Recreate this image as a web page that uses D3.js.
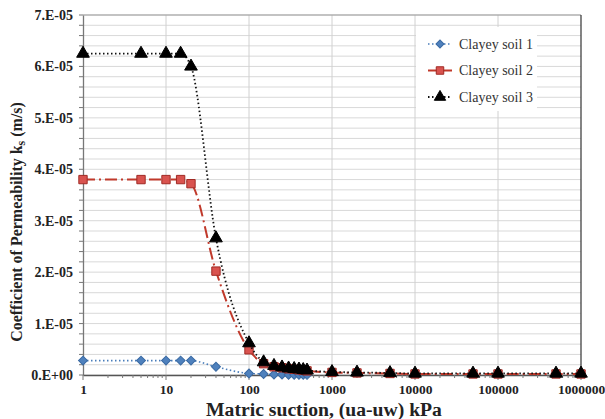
<!DOCTYPE html>
<html><head><meta charset="utf-8">
<script src="https://cdn.jsdelivr.net/npm/d3@7"></script>
<style>body{margin:0;background:#fff}svg{display:block}
text{font-family:"Liberation Serif","Times New Roman",Times,serif}</style>
</head><body>
<svg id="c" width="605" height="419"></svg>
<script>
const suction = [1,5,10,15,20,40,100,150,200,250,300,350,400,450,500,1000,2000,5000,10000,50000,100000,500000,1000000];
const soil1 = [2.8e-6,2.8e-6,2.8e-6,2.8e-6,2.8e-6,1.6e-6,3e-7,2e-7,1e-7,1e-7,5e-8,5e-8,3e-8,3e-8,2e-8,null,null,null,null,null,null,null,null];
const soil2 = [3.8e-5,3.8e-5,3.8e-5,3.8e-5,3.72e-5,2.02e-5,4.9e-6,2.2e-6,1.6e-6,1.4e-6,1.2e-6,1.1e-6,1.0e-6,9e-7,8e-7,5e-7,4e-7,3e-7,2e-7,2e-7,2e-7,2e-7,2e-7];
const soil3 = [6.25e-5,6.25e-5,6.25e-5,6.25e-5,6.0e-5,2.66e-5,6.2e-6,2.5e-6,1.8e-6,1.5e-6,1.3e-6,1.2e-6,1.1e-6,1.0e-6,9e-7,6e-7,5e-7,4e-7,3e-7,3e-7,3e-7,3e-7,3e-7];
const seriesNames = ["Clayey soil 1","Clayey soil 2","Clayey soil 3"];
const xTicks = [1,10,100,1000,10000,100000,1000000];
const yTicks = [0,1e-5,2e-5,3e-5,4e-5,5e-5,6e-5,7e-5];

const serif = '"Liberation Serif","Times New Roman",Times,serif';
const svg = d3.select("#c");
const L=83, R=581, T=15, B=375;
const x = d3.scaleLog().domain([1,1e6]).range([L,R]);
const y = d3.scaleLinear().domain([0,7e-5]).range([B,T]);

function fit(sel, target){
  const w = sel.node().getComputedTextLength();
  const fs = parseFloat(sel.attr("font-size"));
  sel.attr("font-size", fs*target/w);
}

const yMinor = d3.range(0,7.0001e-5,2e-6);
svg.append("g").selectAll("line").data(yMinor).join("line")
  .attr("x1",L).attr("x2",R).attr("y1",d=>y(d)).attr("y2",d=>y(d))
  .attr("stroke","#d9d9d9").attr("stroke-width",1);
svg.append("g").selectAll("line").data(xTicks.slice(1,-1)).join("line")
  .attr("x1",d=>x(d)).attr("x2",d=>x(d)).attr("y1",T).attr("y2",B)
  .attr("stroke","#d0d0d0").attr("stroke-width",1);
svg.append("line").attr("x1",L).attr("x2",R).attr("y1",T).attr("y2",T).attr("stroke","#9a9a9a");
svg.append("line").attr("x1",R).attr("x2",R).attr("y1",T).attr("y2",B).attr("stroke","#333").attr("stroke-width",1.2);

// y axis
const yAxis = d3.axisLeft(y).tickValues(yTicks).tickSize(0).tickPadding(10)
  .tickFormat(d=> d===0 ? "0.E+00" : Math.round(d/1e-5)+".E-05");
const gy = svg.append("g").attr("transform",`translate(${L},0)`).call(yAxis);
gy.attr("font-family",null);
gy.select(".domain").attr("stroke","#777").attr("stroke-width",1.3);
gy.selectAll("text").style("font-family",serif).attr("font-weight","bold").attr("font-size",14).attr("fill","#222");
svg.append("g").selectAll("line").data(yMinor).join("line")
  .attr("x1",L-4).attr("x2",L).attr("y1",d=>y(d)).attr("y2",d=>y(d)).attr("stroke","#777");

// x axis
const xAxis = d3.axisBottom(x).tickValues(xTicks).tickSize(0).tickPadding(9).tickFormat(d3.format("d"));
const gx = svg.append("g").attr("transform",`translate(0,${B})`).call(xAxis);
gx.attr("font-family",null);
gx.select(".domain").attr("stroke","#555").attr("stroke-width",1.3);
gx.selectAll("text").style("font-family",serif).attr("font-weight","bold").attr("font-size",13.5).attr("fill","#222");
const minor = [];
for(let e=0;e<6;e++) for(let k=1;k<=9;k++) minor.push(k*Math.pow(10,e));
minor.push(1e6);
svg.append("g").selectAll("line").data(minor).join("line")
  .attr("x1",d=>x(d)).attr("x2",d=>x(d)).attr("y1",B).attr("y2",d=>{const l=Math.log10(d);return Math.abs(l-Math.round(l))<1e-9?B+5:B+3;})
  .attr("stroke","#777");

// titles
const xt = svg.append("text").attr("x",324).attr("y",416).attr("text-anchor","middle")
  .style("font-family",serif).attr("font-weight","bold").attr("font-size",18).attr("fill","#222")
  .text("Matric suction, (ua-uw) kPa");
fit(xt,236);
const yt = svg.append("text").attr("transform",`translate(22,222) rotate(-90)`).attr("text-anchor","middle")
  .style("font-family",serif).attr("font-weight","bold").attr("font-size",17).attr("fill","#222");
yt.append("tspan").text("Coefficient of Permeability k");
yt.append("tspan").attr("font-size","0.75em").attr("dy",3).text("s");
yt.append("tspan").attr("dy",-3).text(" (m/s)");
fit(yt,240);

// series
const styles = [
  {data:soil1, color:"#4a7ebb", dash:"1.5,2.5", width:1.6, marker:"diamond", fill:"#4f81bd", stroke:"#3a6aa3", size:40},
  {data:soil2, color:"#c0392b", dash:"12,4,2,4", width:2, marker:"square", fill:"#d9534f", stroke:"#a02a24", size:70},
  {data:soil3, color:"#111", dash:"1.5,2.5", width:1.8, marker:"triangle", fill:"#000", stroke:"#000", size:70}
];
const line = d3.line().x(d=>x(d[0])).y(d=>y(d[1])).curve(d3.curveMonotoneX);
const symMap = {diamond:d3.symbolSquare, square:d3.symbolSquare, triangle:d3.symbolTriangle};
styles.forEach(s=>{
  const pts = suction.map((v,i)=>[v,s.data[i]]).filter(d=>d[1]!==null);
  svg.append("path").datum(pts).attr("d",line).attr("fill","none")
    .attr("stroke",s.color).attr("stroke-width",s.width).attr("stroke-dasharray",s.dash);
  svg.append("g").selectAll("path").data(pts).join("path")
    .attr("transform",d=>`translate(${x(d[0])},${y(d[1])})`+(s.marker==="diamond"?" rotate(45)":""))
    .attr("d",d3.symbol().type(symMap[s.marker]).size(s.size))
    .attr("fill",s.fill).attr("stroke",s.stroke).attr("stroke-width",1);
});

// legend
svg.append("rect").attr("x",416).attr("y",27).attr("width",121).attr("height",84).attr("fill","#fff");
styles.forEach((s,i)=>{
  const ly = 44 + i*26.5;
  svg.append("line").attr("x1",428).attr("x2",452).attr("y1",ly).attr("y2",ly)
    .attr("stroke",s.color).attr("stroke-width",s.width).attr("stroke-dasharray",i===1?"none":s.dash);
  svg.append("path").attr("transform",`translate(440,${ly})`+(s.marker==="diamond"?" rotate(45)":""))
    .attr("d",d3.symbol().type(symMap[s.marker]).size(s.size*0.8))
    .attr("fill",s.fill).attr("stroke",s.stroke);
  svg.append("text").attr("x",459).attr("y",ly+4.5).style("font-family",serif).attr("font-size",14)
    .attr("fill","#333").text(seriesNames[i]);
});
</script>
</body></html>
